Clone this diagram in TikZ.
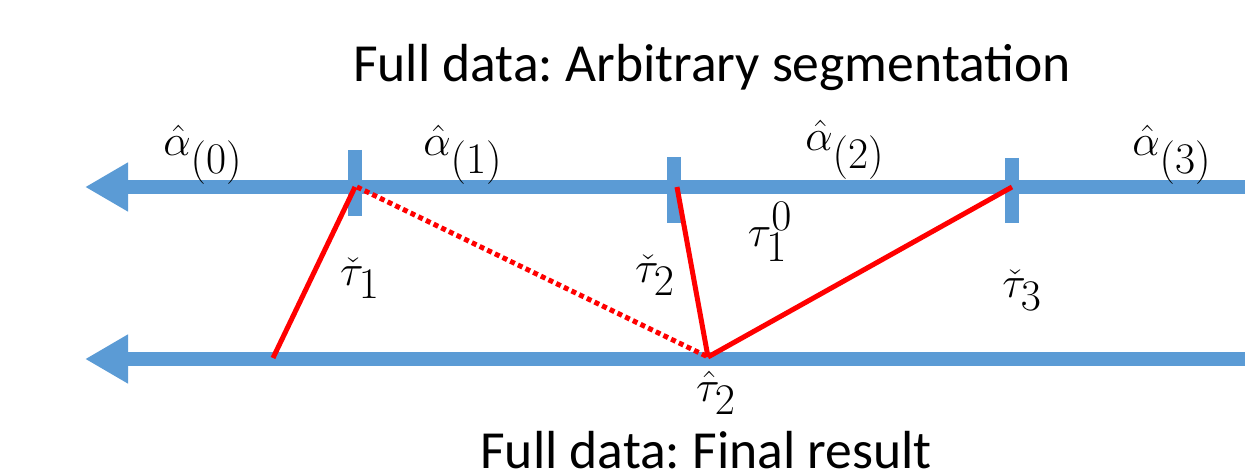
\documentclass[tikz,border=0pt]{standalone}
\usepackage{fontspec}
\setmainfont{Carlito}
\frenchspacing
\usetikzlibrary{arrows.meta,positioning}
\definecolor{axisblue}{HTML}{5B9BD5}

\begin{document}
\begin{tikzpicture}[x=0.02cm, y=-0.02cm,
      axis/.style = {draw=axisblue, line width=14*0.02cm, -{Triangle[length=43*0.02cm, width=46*0.02cm]}},
      tick/.style = {draw=axisblue, line width=14*0.02cm},
      link/.style = {draw=red, line width=5*0.02cm},
      txt/.style  = {font=\fontsize{30.5}{36}\selectfont, inner sep=0pt},
      lab/.style  = {font=\fontsize{33}{38}\selectfont, inner sep=0pt}
]
\useasboundingbox (0,0) rectangle (1245,475);
% the two time axes
\coordinate (T0) at (1245,187);
\coordinate (T1) at (85,187);
\coordinate (B0) at (1245,359);
\coordinate (B1) at (85,359);
\draw[axis] (T0) -- (T1);
\draw[axis] (B0) -- (B1);
% change points on the upper axis
\coordinate (c1) at (355,187);
\coordinate (c2) at (674,187);
\coordinate (c3) at (1012,187);
\draw[tick] (355,150) -- (355,216);
\draw[tick] (674,157) -- (674,223);
\draw[tick] (1012,158) -- (1012,223);
% ends on the lower axis
\coordinate (d0) at (273,358);
\coordinate (d2) at (708,357);
\draw[link] (c1) -- (d0);
\draw[link, dotted, line cap=butt] ([xshift=2*0.02cm]c1) -- (d2);
\draw[link] ([xshift=3*0.02cm]c2) -- (d2);
\draw[link] (c3) -- (d2);
% labels
\node (title) [txt] at (712,68)  {Full data: Arbitrary segmentation};
\node (final) [txt] at (706,450) {Full data: Final result};
\node (a0) [lab] at (203,155) {$\hat{\alpha}_{(0)}$};
\node (a1) [lab] at (463,155) {$\hat{\alpha}_{(1)}$};
\node (a2) [lab] at (845,150) {$\hat{\alpha}_{(2)}$};
\node (a3) [lab] at (1172,155) {$\hat{\alpha}_{(3)}$};
\node (t1) [lab] at (360,278) {$\check{\tau}_1$};
\node (t2) [lab] at (655,275) {$\check{\tau}_2$};
\node (t3) [lab] at (1022,290) {$\check{\tau}_3$};
\node (t10) [lab] at (770,232) {$\tau_1^0$};
\node (h2) [lab] at (716,393) {$\hat{\tau}_2$};
\end{tikzpicture}
\end{document}
